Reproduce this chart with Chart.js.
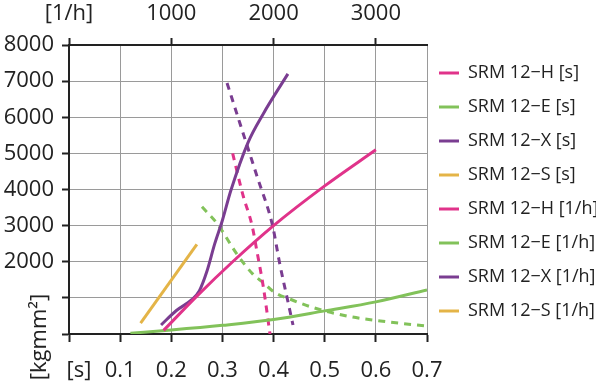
<!DOCTYPE html>
<html>
<head>
<meta charset="utf-8">
<script src="https://cdn.jsdelivr.net/npm/chart.js@4"></script>
<style>
  html, body { margin: 0; padding: 0; background: #fff; }
  #wrap { width: 600px; height: 384px; }
</style>
</head>
<body>
<div id="wrap"><canvas id="chart"></canvas></div>
<script>
// Werte
// [s]-Kurven: x = Zeit [s], y = Traegheit [kgmm²]
const hS_x = [0.185, 0.25, 0.32, 0.4, 0.5, 0.6];
const hS_y = [100, 1050, 2000, 3000, 4100, 5100];

const eS_x = [0.12, 0.2, 0.3, 0.4, 0.5, 0.6, 0.7];
const eS_y = [20, 110, 240, 400, 640, 890, 1220];

const xS_x = [0.18, 0.21, 0.24, 0.255, 0.27, 0.285, 0.3, 0.316, 0.35, 0.38, 0.428];
const xS_y = [250, 650, 950, 1200, 1750, 2500, 3150, 3950, 5300, 6100, 7200];

const sS_x = [0.14, 0.25];
const sS_y = [300, 2480];

// [1/h]-Kurven: x = Zyklen pro Stunde, y = Traegheit [kgmm²]
const hH_x = [1600, 1700, 1790, 1840, 1900, 1965];
const hH_y = [5000, 3850, 3000, 2250, 1300, 0];

const eH_x = [1300, 1450, 1640, 1800, 1900, 2000, 2200, 2400, 2750, 3100, 3500];
const eH_y = [3520, 3050, 2220, 1650, 1420, 1170, 920, 720, 480, 340, 220];

const xH_x = [1545, 1670, 1840, 1990, 2060, 2140, 2190];
const xH_y = [6950, 5840, 4350, 3000, 1950, 900, 250];

const sH_x = [];
const sH_y = [];

// Beschriftung oben
const topTicks = [0, 1000, 2000, 3000];

const seriesLabels = [
    'SRM 12\u2212H [s]', 'SRM 12\u2212E [s]', 'SRM 12\u2212X [s]', 'SRM 12\u2212S [s]',
    'SRM 12\u2212H [1/h]', 'SRM 12\u2212E [1/h]', 'SRM 12\u2212X [1/h]', 'SRM 12\u2212S [1/h]'
];

const pink = '#e0338a';
const green = '#82c25a';
const purple = '#7a3d91';
const yellow = '#e4b447';
const textColor = '#222';
const font = 'Open Sans';

function pts(xs, ys) {
    return xs.map((x, i) => ({ x: x, y: ys[i] }));
}

function makeSet(label, xs, ys, color, dashed) {
    return {
        label: label,
        data: pts(xs, ys),
        xAxisID: dashed ? 'xTop' : 'x',
        borderColor: color,
        backgroundColor: color,
        borderWidth: 3,
        borderDash: dashed ? [7, 6] : [],
        pointRadius: 0,
        fill: false,
        cubicInterpolationMode: 'monotone'
    };
}

const datasets = [
    makeSet(seriesLabels[0], hS_x, hS_y, pink, false),
    makeSet(seriesLabels[1], eS_x, eS_y, green, false),
    makeSet(seriesLabels[2], xS_x, xS_y, purple, false),
    makeSet(seriesLabels[3], sS_x, sS_y, yellow, false),
    makeSet(seriesLabels[4], hH_x, hH_y, pink, true),
    makeSet(seriesLabels[5], eH_x, eH_y, green, true),
    makeSet(seriesLabels[6], xH_x, xH_y, purple, true),
    makeSet(seriesLabels[7], sH_x, sH_y, yellow, true)
];

// Legende fest auf 173px Breite, etwas nach links geschoben
const legendWidth = {
    id: 'legendWidth',
    afterInit(chart) {
        const lg = chart.legend;
        const fit = lg.fit;
        lg.fit = function () {
            fit.call(this);
            this.width = 173;
        };
    },
    afterLayout(chart) {
        chart.legend.left -= 4;
        chart.legend.right -= 4;
    }
};

// Achsentitel [kgmm²] und [s]
const extraLabels = {
    id: 'extraLabels',
    afterDraw(chart) {
        const ctx = chart.ctx;
        const xs = chart.scales.x;
        ctx.save();
        ctx.fillStyle = textColor;
        ctx.font = '22px "' + font + '"';
        ctx.textAlign = 'center';
        ctx.textBaseline = 'middle';
        ctx.fillText('[s]', xs.getPixelForValue(0) + 10, 371);
        ctx.translate(40, 337);
        ctx.rotate(-Math.PI / 2);
        ctx.fillText('[kgmm\u00b2]', 0, 0);
        ctx.restore();
    }
};

new Chart(document.getElementById('chart'), {
    type: 'line',
    data: { datasets: datasets },
    plugins: [legendWidth, extraLabels],
    options: {
        responsive: true,
        maintainAspectRatio: false,
        animation: false,
        layout: { padding: 0 },
        plugins: {
            tooltip: { enabled: false },
            legend: {
                position: 'right',
                labels: {
                    usePointStyle: true,
                    pointStyle: 'line',
                    pointStyleWidth: 20,
                    color: textColor,
                    padding: 16,
                    font: { family: font, size: 18 }
                }
            }
        },
        scales: {
            x: {
                type: 'linear',
                position: 'bottom',
                min: 0,
                max: 0.7,
                afterFit: (s) => { s.height = 50; },
                ticks: {
                    stepSize: 0.1,
                    color: textColor,
                    font: { family: font, size: 22 },
                    padding: 16,
                    maxRotation: 0,
                    callback: (v) => v < 0.05 ? '' : v.toFixed(1)
                },
                grid: {
                    color: '#9a9a9a',
                    borderDash: [4, 4],
                    lineWidth: 1,
                    tickColor: '#222',
                    tickBorderDash: [],
                    tickLength: 8,
                    tickWidth: 2
                },
                border: { display: true, color: '#222', width: 2 }
            },
            xTop: {
                type: 'linear',
                position: 'top',
                min: 0,
                max: 3500,
                afterFit: (s) => { s.height = 45; },
                afterBuildTicks: (s) => { s.ticks = topTicks.map(v => ({ value: v })); },
                ticks: {
                    color: textColor,
                    font: { family: font, size: 22 },
                    padding: 11,
                    maxRotation: 0,
                    autoSkip: false,
                    callback: (v) => v === 0 ? '[1/h]' : String(v)
                },
                grid: {
                    drawOnChartArea: false,
                    tickColor: '#222',
                    tickLength: 7,
                    tickWidth: 2
                },
                border: { display: true, color: '#222', width: 2 }
            },
            y: {
                type: 'linear',
                min: 0,
                max: 8000,
                afterFit: (s) => { s.width = 69; },
                ticks: {
                    stepSize: 1000,
                    color: textColor,
                    font: { family: font, size: 22 },
                    padding: 8,
                    callback: (v) => v < 2000 ? '' : String(v)
                },
                grid: {
                    color: '#9a9a9a',
                    borderDash: [4, 4],
                    lineWidth: 1,
                    tickColor: '#222',
                    tickBorderDash: [],
                    tickLength: 7,
                    tickWidth: 2
                },
                border: { display: true, color: '#222', width: 2 }
            }
        }
    }
});
</script>
</body>
</html>
